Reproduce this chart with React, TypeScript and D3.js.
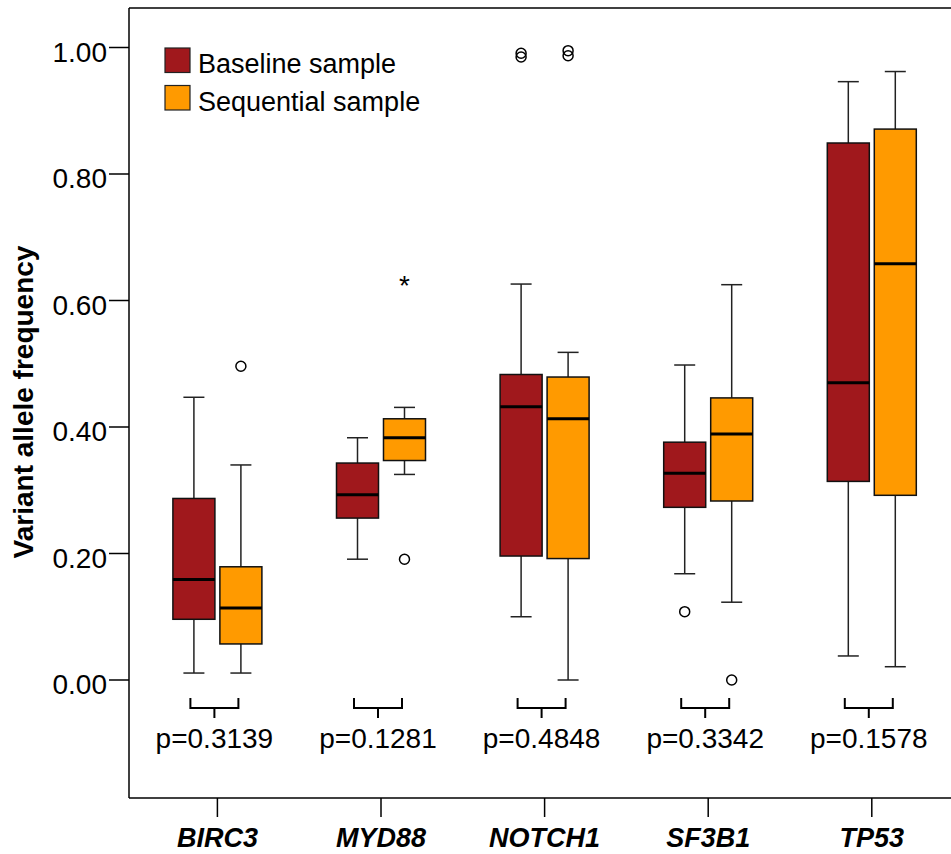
import React from 'react';
import * as d3 from 'd3';

const genes = ['BIRC3', 'MYD88', 'NOTCH1', 'SF3B1', 'TP53'];
const series = ['Baseline sample', 'Sequential sample'];
const seriesColors = ['#a0181c', '#ff9a00'];

// [lower whisker, Q1, median, Q3, upper whisker] per gene
const baselineStats = [
  [0.011, 0.096, 0.159, 0.287, 0.447],
  [0.191, 0.256, 0.293, 0.343, 0.383],
  [0.100, 0.196, 0.432, 0.483, 0.626],
  [0.168, 0.273, 0.327, 0.376, 0.498],
  [0.038, 0.314, 0.470, 0.849, 0.946],
];
const sequentialStats = [
  [0.011, 0.057, 0.114, 0.179, 0.340],
  [0.325, 0.347, 0.383, 0.413, 0.431],
  [0.000, 0.192, 0.413, 0.479, 0.518],
  [0.123, 0.283, 0.389, 0.446, 0.625],
  [0.021, 0.292, 0.658, 0.871, 0.962],
];

// outliers (circles) and extremes (stars)
const baselineOutliers = [[], [], [0.991, 0.985], [0.108], []];
const sequentialOutliers = [[0.496], [0.191], [0.995, 0.987], [0.0], []];
const baselineExtremes = [[], [], [], [], []];
const sequentialExtremes = [[], [0.628], [], [], []];

const pValues = ['p=0.3139', 'p=0.1281', 'p=0.4848', 'p=0.3342', 'p=0.1578'];
const yTicks = [0, 0.2, 0.4, 0.6, 0.8, 1.0];

const W = 951;
const H = 854;
const FONT = '"Liberation Sans", Arial, Helvetica, sans-serif';

const App: React.FC = () => {
  const left = 129;
  const top = 8;
  const bottom = 798;

  const x = d3.scaleBand<string>().domain(genes).range([135.6, 953.6]).padding(0);
  const xSub = d3.scaleBand<string>().domain(series).range([-44.5, 44.5]).paddingInner(0.106);
  const y = d3.scaleLinear().domain([0, 1]).range([680, 47.5]);
  const fmt = d3.format('.2f');

  const statsBySeries = [baselineStats, sequentialStats];
  const outliersBySeries = [baselineOutliers, sequentialOutliers];
  const extremesBySeries = [baselineExtremes, sequentialExtremes];
  const bw = xSub.bandwidth();

  return (
    <svg width={W} height={H} style={{ position: 'absolute', left: 0, top: 0, background: '#fff' }} fontFamily={FONT}>
      <rect x={0} y={0} width={W} height={H} fill="#fff" />

      {/* frame */}
      <line x1={left} x2={W + 2} y1={top} y2={top} stroke="#000" strokeWidth={1.5} />
      <line x1={left} x2={W + 2} y1={bottom} y2={bottom} stroke="#000" strokeWidth={1.5} />
      <line x1={left} x2={left} y1={top} y2={bottom} stroke="#000" strokeWidth={1.5} />

      {/* y axis */}
      {yTicks.map(t => (
        <g key={t}>
          <line x1={left - 20} x2={left} y1={y(t)} y2={y(t)} stroke="#000" strokeWidth={1.5} />
          <text x={107} y={y(t) + 14} textAnchor="end" fontSize={28} fill="#000">{fmt(t)}</text>
        </g>
      ))}
      <text
        transform={`translate(33,402) rotate(-90)`}
        textAnchor="middle"
        fontSize={28}
        fontWeight="bold"
        fill="#000"
      >
        Variant allele frequency
      </text>

      {/* x axis */}
      {genes.map(g => {
        const cx = (x(g) as number) + x.bandwidth() / 2;
        return (
          <g key={g}>
            <line x1={cx} x2={cx} y1={bottom} y2={bottom + 19} stroke="#000" strokeWidth={1.5} />
            <text x={cx} y={846.5} textAnchor="middle" fontSize={27} fontWeight="bold" fontStyle="italic" fill="#000">{g}</text>
          </g>
        );
      })}

      {/* boxes */}
      {genes.map((g, gi) => {
        const cx = (x(g) as number) + x.bandwidth() / 2;
        return series.map((s, si) => {
          const [lo, q1, med, q3, hi] = statsBySeries[si][gi];
          const bx = cx + (xSub(s) as number);
          const mx = bx + bw / 2;
          const cap = bw / 4;
          return (
            <g key={g + s}>
              <line x1={mx} x2={mx} y1={y(hi)} y2={y(q3)} stroke="#222" strokeWidth={1.5} />
              <line x1={mx} x2={mx} y1={y(q1)} y2={y(lo)} stroke="#222" strokeWidth={1.5} />
              <line x1={mx - cap} x2={mx + cap} y1={y(hi)} y2={y(hi)} stroke="#222" strokeWidth={1.5} />
              <line x1={mx - cap} x2={mx + cap} y1={y(lo)} y2={y(lo)} stroke="#222" strokeWidth={1.5} />
              <rect x={bx} y={y(q3)} width={bw} height={y(q1) - y(q3)} fill={seriesColors[si]} stroke="#111" strokeWidth={1.5} />
              <line x1={bx} x2={bx + bw} y1={y(med)} y2={y(med)} stroke="#000" strokeWidth={3} />
              {outliersBySeries[si][gi].map((v, k) => (
                <circle key={k} cx={mx} cy={y(v)} r={5} fill="none" stroke="#000" strokeWidth={1.5} />
              ))}
              {extremesBySeries[si][gi].map((v, k) => (
                <text key={k} x={mx} y={y(v) + 12} textAnchor="middle" fontSize={28} fill="#000">*</text>
              ))}
            </g>
          );
        });
      })}

      {/* brackets and p values */}
      {genes.map((g, gi) => {
        const cx = (x(g) as number) + x.bandwidth() / 2 - 3;
        const half = 24;
        return (
          <g key={'p' + g}>
            <path
              d={`M${cx - half},698 V708 H${cx + half} V698 M${cx},708 V718`}
              fill="none"
              stroke="#000"
              strokeWidth={2}
            />
            <text x={cx} y={748} textAnchor="middle" fontSize={28} fill="#000">{pValues[gi]}</text>
          </g>
        );
      })}

      {/* legend */}
      {series.map((s, si) => (
        <g key={'leg' + s} transform={`translate(165,${48 + si * 37.5})`}>
          <rect x={0} y={0} width={25} height={24.5} fill={seriesColors[si]} stroke="#222" strokeWidth={1.2} />
          <text x={33} y={25} fontSize={27} fill="#000">{s}</text>
        </g>
      ))}
    </svg>
  );
};

export default App;
